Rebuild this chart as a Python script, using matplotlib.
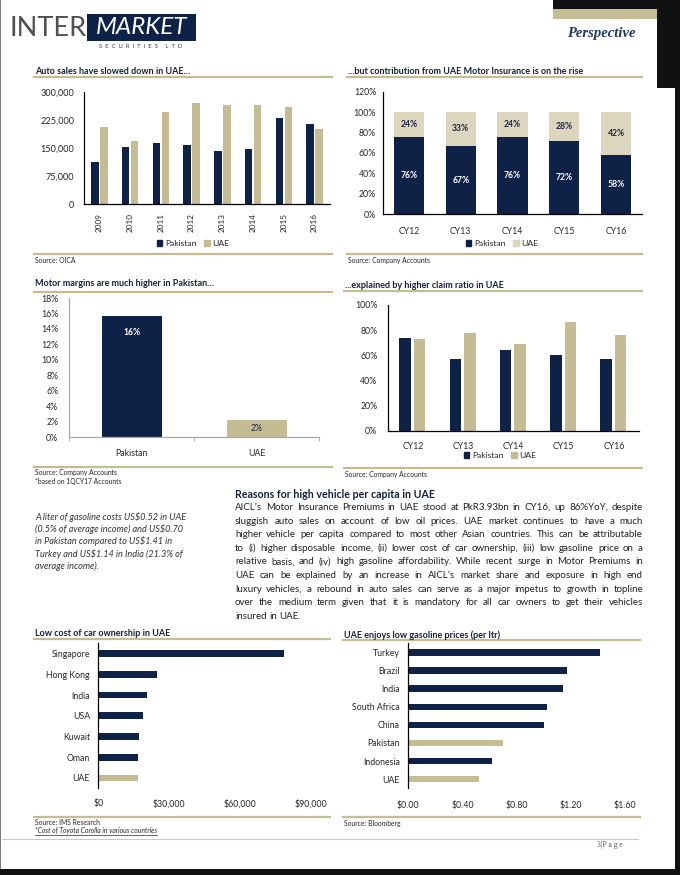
import numpy as np
import matplotlib
matplotlib.use('Agg')
import matplotlib.pyplot as plt
from matplotlib.patches import Rectangle, Patch
from matplotlib.lines import Line2D
from matplotlib.ticker import FuncFormatter

# page of a broker report: six small charts and a block of text
W, H = 680, 875
NAVY = '#0e2247'
TAN = '#c5bc93'
LTAN = '#dcd6bf'
INK = '#262626'
plt.rcParams['font.family'] = ['Lato', 'DejaVu Sans']

# --- data ---
years = ['2009', '2010', '2011', '2012', '2013', '2014', '2015', '2016']
sales_pak = [112000, 153500, 164000, 157000, 143000, 146500, 229000, 213000]
sales_uae = [205000, 168500, 246000, 271000, 264500, 264500, 258500, 200000]

cy = ['CY12', 'CY13', 'CY14', 'CY15', 'CY16']
share_pak = [76, 67, 76, 72, 58]
share_uae = [24, 33, 24, 28, 42]

margin_cat = ['Pakistan', 'UAE']
margin_val = [15.7, 2.2]
margin_lbl = ['16%', '2%']

claim_pak = [73.8, 56.9, 64.0, 60.1, 56.9]
claim_uae = [73.0, 77.8, 69.0, 86.8, 76.5]

own_country = ['Singapore', 'Hong Kong', 'India', 'USA', 'Kuwait', 'Oman', 'UAE']
own_cost = [78500, 25000, 20800, 19100, 17300, 17000, 16800]

gas_country = ['Turkey', 'Brazil', 'India', 'South Africa', 'China', 'Pakistan', 'Indonesia', 'UAE']
gas_price = [1.41, 1.17, 1.14, 1.02, 1.00, 0.70, 0.62, 0.52]
highlight = ['Pakistan', 'UAE']

note_lines = ['A liter of gasoline costs US$0.52 in UAE',
              '(0.5% of average income) and US$0.70',
              'in Pakistan compared to US$1.41 in',
              'Turkey and US$1.14 in India (21.3% of',
              'average income).']
body_title = 'Reasons for high vehicle per capita in UAE'
body_lines = [
    "AICL\u2019s Motor Insurance Premiums in UAE stood at PkR3.93bn in CY16, up 86%YoY, despite",
    "sluggish auto sales on account of low oil prices. UAE market continues to have a much",
    "higher vehicle per capita compared to most other Asian countries. This can be attributable",
    "to (i) higher disposable income, (ii) lower cost of car ownership, (iii) low gasoline price on a",
    "relative basis, and (iv) high gasoline affordability. While recent surge in Motor Premiums in",
    "UAE can be explained by an increase in AICL\u2019s market share and exposure in high end",
    "luxury vehicles, a rebound in auto sales can serve as a major impetus to growth in topline",
    "over the medium term given that it is mandatory for all car owners to get their vehicles",
    "insured in UAE.",
]

fig = plt.figure(figsize=(W / 100, H / 100), dpi=100)


def px_axes(x0, y0, x1, y1):
    return fig.add_axes([x0 / W, 1 - y1 / H, (x1 - x0) / W, (y1 - y0) / H])


def ftext(x, y, s, **kw):
    kw.setdefault('va', 'center')
    kw.setdefault('color', INK)
    return fig.text(x / W, 1 - y / H, s, **kw)


def hline(x0, x1, y, color=TAN, lw=1.6):
    fig.add_artist(Line2D([x0 / W, x1 / W], [1 - y / H, 1 - y / H], color=color, lw=lw))


def rect(x0, y0, x1, y1, color):
    fig.add_artist(Rectangle((x0 / W, 1 - y1 / H), (x1 - x0) / W, (y1 - y0) / H,
                             facecolor=color, lw=0, transform=fig.transFigure))


def style(ax, spine='black'):
    for s in ['top', 'right']:
        ax.spines[s].set_visible(False)
    for s in ['left', 'bottom']:
        ax.spines[s].set_color(spine)
        ax.spines[s].set_linewidth(0.9)
    ax.tick_params(length=0, labelsize=6.3, colors=INK)


def frame(x0, x1, title, ytitle, yline, ybot, sources):
    ftext(x0 + 1, ytitle, title, fontsize=6.5, fontweight='bold', color='#14203a')
    hline(x0, x1, yline)
    hline(x0, x1, ybot)
    for i, s in enumerate(sources):
        ftext(x0 + 1, ybot + 6 + 9 * i, s, fontsize=4.9)


def legend(ax, cx, cy_, colors):
    hs = [Patch(color=colors[0], label='Pakistan'), Patch(color=colors[1], label='UAE')]
    ax.legend(handles=hs, loc='center', bbox_to_anchor=(cx / W, 1 - cy_ / H),
              bbox_transform=fig.transFigure, ncol=2, frameon=False, fontsize=6.1,
              handlelength=0.7, handleheight=0.7, handletextpad=0.3, columnspacing=0.9,
              borderpad=0, labelcolor=INK)


pct = FuncFormatter(lambda v, p: f'{v:.0f}%')

# --- chart 1: auto sales ---
frame(34, 332, 'Auto sales have slowed down in UAE\u2026', 71, 76.7, 254.3, ['Source: OICA'])
ax1 = px_axes(84, 91.7, 330, 204.3)
x = np.arange(len(years))
ax1.bar(x - 0.145, sales_pak, 0.24, color=NAVY)
ax1.bar(x + 0.145, sales_uae, 0.24, color=TAN)
ax1.set_xlim(-0.5, len(years) - 0.5)
ax1.set_ylim(0, 300000)
ax1.set_yticks(np.arange(0, 300001, 75000))
ax1.yaxis.set_major_formatter(FuncFormatter(lambda v, p: f'{v:,.0f}'))
ax1.set_xticks(x, years, rotation=90)
style(ax1)
ax1.tick_params(axis='y', pad=7, labelsize=6.6)
ax1.tick_params(axis='x', pad=6, labelsize=5.9)
legend(ax1, 193, 243, [NAVY, TAN])

# --- chart 2: contribution share ---
frame(347, 642, '...but contribution from UAE Motor Insurance is on the rise', 71, 76.7, 254.3,
      ['Source: Company Accounts'])
ax2 = px_axes(383, 91.7, 642, 214.3)
x = np.arange(len(cy))
b1 = ax2.bar(x, share_pak, 0.58, color=NAVY)
b2 = ax2.bar(x, share_uae, 0.58, bottom=share_pak, color=LTAN)
ax2.bar_label(b1, labels=[f'{v}%' for v in share_pak], label_type='center',
              color='white', fontweight='bold', fontsize=6.2)
ax2.bar_label(b2, labels=[f'{v}%' for v in share_uae], label_type='center',
              color='#1c2540', fontweight='bold', fontsize=6.2)
ax2.set_xlim(-0.5, len(cy) - 0.5)
ax2.set_ylim(0, 120)
ax2.set_yticks(np.arange(0, 121, 20))
ax2.yaxis.set_major_formatter(pct)
ax2.set_xticks(x, cy)
style(ax2)
ax2.tick_params(axis='y', pad=5)
ax2.tick_params(axis='x', pad=9)
legend(ax2, 502, 243, [NAVY, LTAN])

# --- chart 3: motor margins ---
frame(34, 332, 'Motor margins are much higher in Pakistan\u2026', 283.3, 291.7, 466.7,
      ['Source: Company Accounts', '*based on 1QCY17 Accounts'])
ax3 = px_axes(69.3, 298, 319, 437.3)
b3 = ax3.bar(range(len(margin_cat)), margin_val, 0.48, color=[NAVY, TAN])
for i, (v, s) in enumerate(zip(margin_val, margin_lbl)):
    ax3.text(i, v - min(2.2, v / 2), s, ha='center', va='center', fontsize=6.2,
             color='white' if i == 0 else '#1c2540', fontweight='bold' if i == 0 else 'normal')
ax3.set_xlim(-0.5, len(margin_cat) - 0.5)
ax3.set_ylim(0, 18)
ax3.set_yticks(np.arange(0, 19, 2))
ax3.yaxis.set_major_formatter(pct)
ax3.set_xticks(range(len(margin_cat)), margin_cat)
ax3.set_xticks([-0.5, 0.5, 1.5], minor=True)
style(ax3, '#a8a8a8')
ax3.tick_params(axis='y', pad=8)
ax3.tick_params(axis='x', pad=8.5)
ax3.tick_params(axis='x', which='minor', length=3, color='#a8a8a8')

# --- chart 4: claim ratio ---
frame(344, 642, '...explained by higher claim ratio in UAE', 285, 290.7, 468,
      ['Source: Company Accounts'])
ax4 = px_axes(387.7, 305, 639, 431)
x = np.arange(len(cy))
ax4.bar(x - 0.155, claim_pak, 0.23, color=NAVY)
ax4.bar(x + 0.135, claim_uae, 0.23, color=TAN)
ax4.set_xlim(-0.5, len(cy) - 0.5)
ax4.set_ylim(0, 100)
ax4.set_yticks(np.arange(0, 101, 20))
ax4.yaxis.set_major_formatter(pct)
ax4.set_xticks(x, cy)
style(ax4)
ax4.tick_params(axis='y', pad=7.5)
ax4.tick_params(axis='x', pad=8)
legend(ax4, 500, 455, [NAVY, TAN])

# --- chart 5: cost of ownership ---
frame(34, 330, 'Low cost of car ownership in UAE', 633, 639, 816.7,
      ['Source: IMS Research'])
nt = ftext(35, 831, '*Cost of Toyota Corolla in various countries', fontsize=4.9,
           fontstyle='italic')
ax5 = px_axes(98.3, 643.3, 310.7, 788.3)
y = np.arange(len(own_country))
ax5.barh(y, own_cost, 0.32, color=[TAN if c in highlight else NAVY for c in own_country])
ax5.set_ylim(len(own_country) - 0.5, -0.5)
ax5.set_xlim(0, 90000)
ax5.set_xticks(np.arange(0, 90001, 30000))
ax5.xaxis.set_major_formatter(FuncFormatter(lambda v, p: f'${v:,.0f}'))
ax5.set_yticks(y, own_country)
style(ax5)
ax5.spines['bottom'].set_visible(False)
ax5.tick_params(axis='y', pad=6)
ax5.tick_params(axis='x', pad=8)

# --- chart 6: gasoline prices ---
frame(343, 640, 'UAE enjoys low gasoline prices (per ltr)', 635, 640, 817.3,
      ['Source: Bloomberg'])
ax6 = px_axes(408.3, 643.3, 625.3, 788.3)
y = np.arange(len(gas_country))
ax6.barh(y, gas_price, 0.35, color=[TAN if c in highlight else NAVY for c in gas_country])
ax6.set_ylim(len(gas_country) - 0.5, -0.5)
ax6.set_xlim(0, 1.6)
ax6.set_xticks(np.arange(0, 1.61, 0.4))
ax6.xaxis.set_major_formatter(FuncFormatter(lambda v, p: f'${v:.2f}'))
ax6.set_yticks(y, gas_country)
style(ax6)
ax6.spines['bottom'].set_visible(False)
ax6.tick_params(axis='y', pad=6)
ax6.tick_params(axis='x', pad=9)

# --- text block ---
r = fig.canvas.get_renderer()
for i, s in enumerate(note_lines):
    ftext(35, 517 + 12.2 * i, s, fontsize=6.6, fontstyle='italic', color='#333333')

ftext(235, 494, body_title, fontsize=7.7, fontweight='bold', color='#14203a')
x0, x1 = 235, 643
probe = [ftext(0, 0, s, fontsize=8) for s in body_lines]
widest = max(t.get_window_extent(r).width for t in probe)
for t in probe:
    t.remove()
size = 8 * (x1 - x0) * 0.965 / widest
sp = ftext(0, 0, 'a a', fontsize=size)
nsp = ftext(0, 0, 'aa', fontsize=size)
space = sp.get_window_extent(r).width - nsp.get_window_extent(r).width
sp.remove()
nsp.remove()
for i, line in enumerate(body_lines):
    yy = 507.5 + 13.6 * i
    ts = [ftext(0, yy, w, fontsize=size, color='#222222') for w in line.split()]
    ws = [t.get_window_extent(r).width for t in ts]
    gap = space if i == len(body_lines) - 1 else (x1 - x0 - sum(ws)) / (len(ts) - 1)
    xx = x0
    for t, w in zip(ts, ws):
        t.set_x(xx / W)
        xx += w + gap

# underline under the chart 5 note
bb = nt.get_window_extent(r)
fig.add_artist(Line2D([bb.x0 / W, bb.x1 / W], [(bb.y0 - 0.5) / H] * 2, color=INK, lw=0.5))

# --- page furniture ---
rect(0, 0, 1.2, H, '#7a7a7a')
rect(553, 0, W, 9.3, '#111111')
rect(656.7, 0, W, 88, '#111111')
rect(675, 0, W, H, '#111111')
rect(0, 869, W, H, '#111111')
rect(553.3, 9.3, 656.7, 19.3, TAN)
ftext(601, 33, 'Perspective', fontsize=10.5, fontweight='bold', fontstyle='italic',
      family='Liberation Serif', color='#1f3864', ha='center')

ftext(9, 28, 'INTER', fontsize=19.5, fontweight='normal', color='#505050')
rect(87, 14, 196, 41, NAVY)
ftext(141.5, 28, 'MARKET', fontsize=17.5, color='white', ha='center', fontstyle='italic')
ftext(141, 46.5, 'S  E  C  U  R  I  T  I  E  S     L  T  D', fontsize=4.2, color='#3a3a3a',
      ha='center')

hline(2, 638, 839.3, color='#c8c8c8', lw=0.8)
ftext(597, 845, '3|P a g e', fontsize=5.5, family='Liberation Serif', color='#555555')

fig.savefig('out.png', dpi=100)
